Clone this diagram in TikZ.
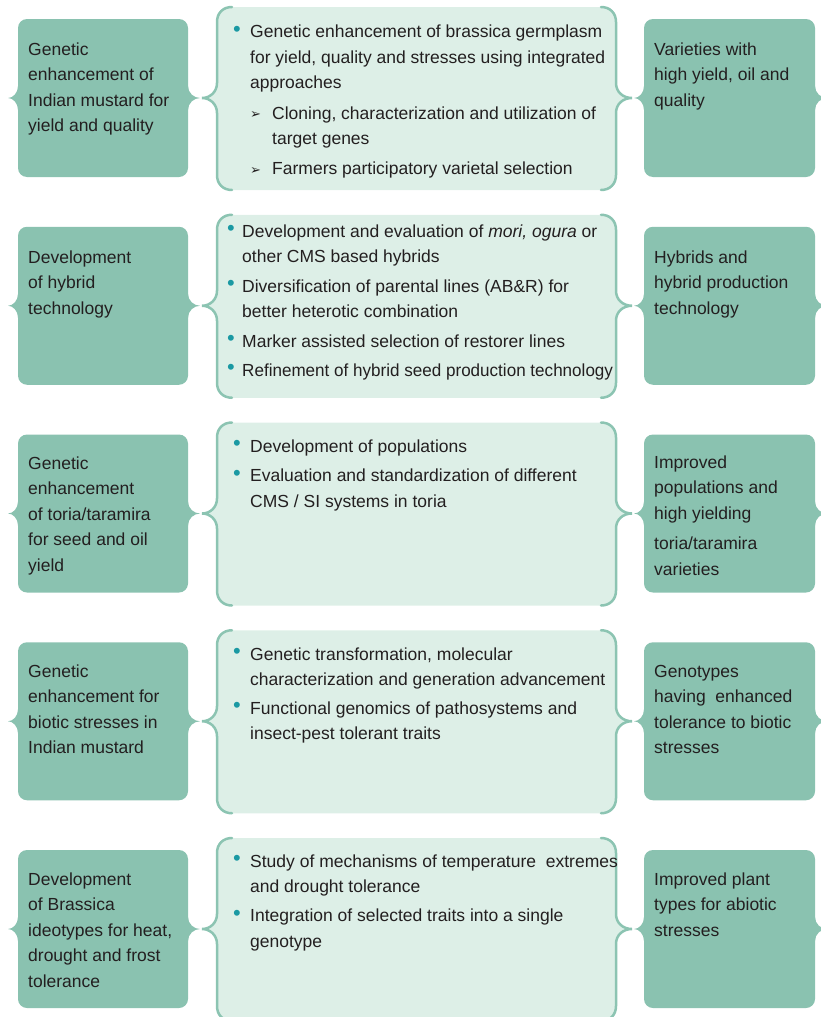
\documentclass[tikz,border=0pt]{standalone}
\usepackage{fontspec}
\setmainfont{Liberation Sans}
\newfontfamily\dejavu{DejaVu Sans}
\definecolor{darkc}{HTML}{8AC2B0}
\definecolor{lightc}{HTML}{DDEFE7}
\definecolor{edgec}{HTML}{8CC4B2}
\definecolor{bulc}{HTML}{1A99A3}
\definecolor{txtc}{HTML}{231F20}
\newcommand\bul[1]{\makebox[#1][l]{\raisebox{1.5pt}{\scalebox{1.25}{\textcolor{bulc}{•}}}}}
\newcommand\arr{\makebox[22pt][l]{\hspace{0pt}{\dejavu\fontsize{13}{13}\selectfont\raisebox{0.5pt}{➢}}}}
\begin{document}
\begin{tikzpicture}[x=1pt,y=-1pt,
  txt/.style={anchor=base west, inner sep=0pt, text=txtc, font=\fontsize{17.5}{25.6}\selectfont},
  edge/.style={draw=edgec, line width=2.5pt, line cap=round}]
\useasboundingbox (0,0) rectangle (820,1017);
\foreach \k in {0,...,4}{
  \pgfmathsetmacro\Y{207.75*\k}
  % middle box
  \fill[lightc, rounded corners=15pt] (217,7+\Y) rectangle (616,190+\Y);
  \fill[lightc] (217,83+\Y) .. controls (217,92+\Y) and (210,98+\Y) .. (202,98+\Y) .. controls (210,98+\Y) and (217,104+\Y) .. (217,113+\Y) -- cycle;
  \fill[lightc] (616,83+\Y) .. controls (616,92+\Y) and (623,98+\Y) .. (632,98+\Y) .. controls (623,98+\Y) and (616,104+\Y) .. (616,113+\Y) -- cycle;
  \draw[edge] (232,7+\Y) .. controls (223,7+\Y) and (217,13+\Y) .. (217,22+\Y) -- (217,83+\Y) .. controls (217,92+\Y) and (210,98+\Y) .. (202,98+\Y) .. controls (210,98+\Y) and (217,104+\Y) .. (217,113+\Y) -- (217,175+\Y) .. controls (217,184+\Y) and (223,190+\Y) .. (232,190+\Y);
  \draw[edge] (601,7+\Y) .. controls (610,7+\Y) and (616,13+\Y) .. (616,22+\Y) -- (616,83+\Y) .. controls (616,92+\Y) and (623,98+\Y) .. (632,98+\Y) .. controls (623,98+\Y) and (616,104+\Y) .. (616,113+\Y) -- (616,175+\Y) .. controls (616,184+\Y) and (610,190+\Y) .. (601,190+\Y);
  % left and right dark boxes
  \foreach \L/\R in {18/188, 644/815}{
    \fill[darkc, rounded corners=9pt] (\L,19+\Y) rectangle (\R,177+\Y);
    \fill[darkc] (\L+3,86+\Y) -- (\L,86+\Y) .. controls (\L,93+\Y) and (\L-5,98+\Y) .. (\L-10,98+\Y) .. controls (\L-5,98+\Y) and (\L,103+\Y) .. (\L,110+\Y) -- (\L+3,110+\Y) -- cycle;
    \fill[darkc] (\R-3,86+\Y) -- (\R,86+\Y) .. controls (\R,93+\Y) and (\R+6,98+\Y) .. (\R+12,98+\Y) .. controls (\R+6,98+\Y) and (\R,103+\Y) .. (\R,110+\Y) -- (\R-3,110+\Y) -- cycle;
  }
}
% left texts
\node[txt] (L1) at (28,55) {\begin{tabular}[t]{@{}l@{}}Genetic\\enhancement of\\Indian mustard for\\yield and quality\end{tabular}};
\node[txt] (L2) at (28,263) {\begin{tabular}[t]{@{}l@{}}Development\\of hybrid\\technology\end{tabular}};
\node[txt] (L3) at (28,469) {\begin{tabular}[t]{@{}l@{}}Genetic\\enhancement\\of toria/taramira\\for seed and oil\\yield\end{tabular}};
\node[txt] (L4) at (28,677) {\begin{tabular}[t]{@{}l@{}}Genetic\\enhancement for\\biotic stresses in\\Indian mustard\end{tabular}};
\node[txt] (L5) at (28,885) {\begin{tabular}[t]{@{}l@{}}Development\\of Brassica\\ideotypes for heat,\\drought and frost\\tolerance\end{tabular}};
% right texts
\node[txt] (R1) at (654,55) {\begin{tabular}[t]{@{}l@{}}Varieties with\\high yield, oil and\\quality\end{tabular}};
\node[txt] (R2) at (654,263) {\begin{tabular}[t]{@{}l@{}}Hybrids and\\hybrid production\\technology\end{tabular}};
\node[txt] (R3) at (654,468) {\begin{tabular}[t]{@{}l@{}}Improved\\populations and\\high yielding\\[5pt]toria/taramira\\varieties\end{tabular}};
\node[txt] (R4) at (654,677) {\begin{tabular}[t]{@{}l@{}}Genotypes\\having\ \ enhanced\\tolerance to biotic\\stresses\end{tabular}};
\node[txt] (R5) at (654,885) {\begin{tabular}[t]{@{}l@{}}Improved plant\\types for abiotic\\stresses\end{tabular}};
% middle texts
\node[txt] (M1) at (233,37.5) {\begin{tabular}[t]{@{}l@{}l@{}}
\bul{17pt} & Genetic enhancement of brassica germplasm\\
 & for yield, quality and stresses using integrated\\
 & approaches\\[5pt]
 & \arr Cloning, characterization and utilization of\\
 & \hspace*{22pt}target genes\\[4pt]
 & \arr Farmers participatory varietal selection
\end{tabular}};
\node[txt] (M2) at (227,237) {\begin{tabular}[t]{@{}l@{}l@{}}
\bul{15pt} & Development and evaluation of \textit{mori, ogura} or\\
 & other CMS based hybrids\\[4pt]
\bul{15pt} & Diversification of parental lines (AB\&R) for\\
 & better heterotic combination\\[4pt]
\bul{15pt} & Marker assisted selection of restorer lines\\[3pt]
\bul{15pt} & \scalebox{0.975}[1]{Refinement of hybrid seed production technology}
\end{tabular}};
\node[txt] (M3) at (233,452) {\begin{tabular}[t]{@{}l@{}l@{}}
\bul{17pt} & Development of populations\\[4pt]
\bul{17pt} & Evaluation and standardization of different\\
 & CMS / SI systems in toria
\end{tabular}};
\node[txt] (M4) at (233,660) {\begin{tabular}[t]{@{}l@{}l@{}}
\bul{17pt} & Genetic transformation, molecular\\
 & characterization and generation advancement\\[3pt]
\bul{17pt} & Functional genomics of pathosystems and\\
 & insect-pest tolerant traits
\end{tabular}};
\node[txt] (M5) at (233,867) {\begin{tabular}[t]{@{}l@{}l@{}}
\bul{17pt} & Study of mechanisms of temperature\ \ extremes\\
 & and drought tolerance\\[3.5pt]
\bul{17pt} & Integration of selected traits into a single\\
 & genotype
\end{tabular}};
\end{tikzpicture}
\end{document}
